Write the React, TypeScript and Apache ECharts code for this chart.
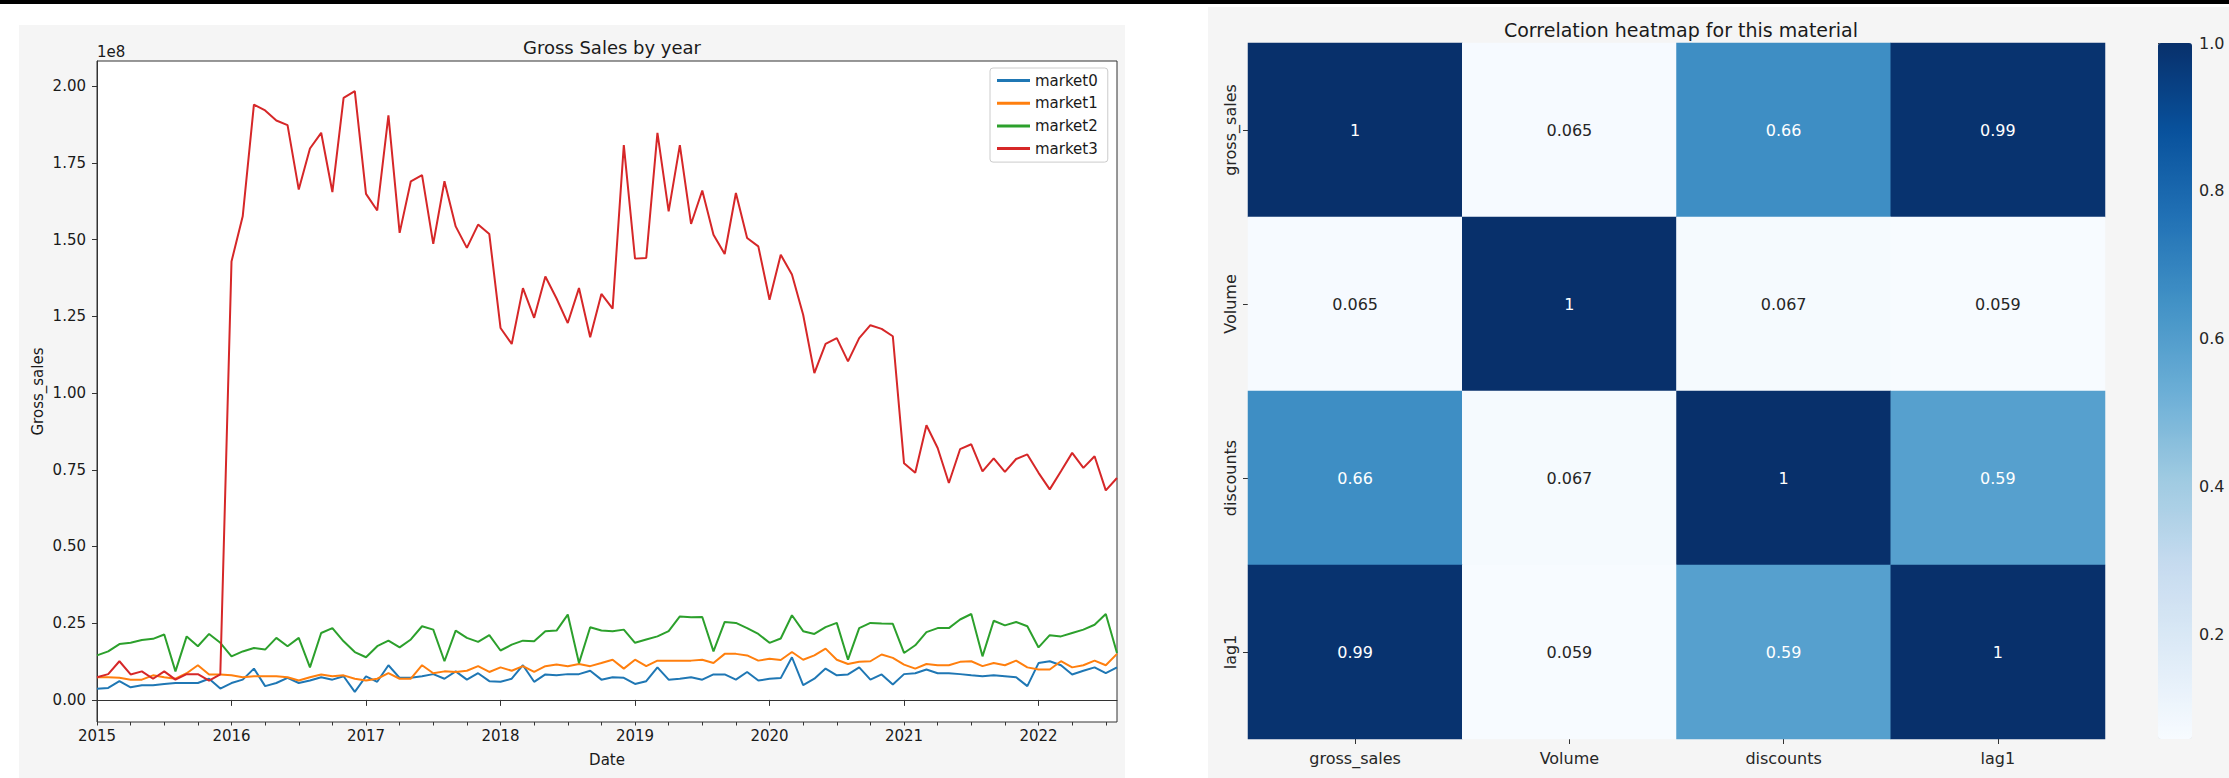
import React, { useEffect, useRef } from "react";
import * as echarts from "echarts";

// ---- Left chart data (values in units of 1e8), monthly from 2015-01 to 2022-08 ----
const startYear = 2015;
const seriesNames = ["market0", "market1", "market2", "market3"];
const market0 = [
  0.036, 0.039, 0.061, 0.041, 0.048, 0.048, 0.052, 0.055, 0.055, 0.055, 0.069, 0.037,
  0.055, 0.066, 0.102, 0.045, 0.055, 0.072, 0.055, 0.063, 0.074, 0.066, 0.077, 0.026,
  0.077, 0.059, 0.113, 0.072, 0.072, 0.077, 0.084, 0.069, 0.093, 0.066, 0.087, 0.061,
  0.059, 0.069, 0.113, 0.059, 0.083, 0.080, 0.084, 0.084, 0.095, 0.066, 0.074, 0.072,
  0.052, 0.061, 0.106, 0.066, 0.069, 0.074, 0.066, 0.083, 0.083, 0.066, 0.091, 0.063,
  0.069, 0.071, 0.139, 0.048, 0.069, 0.102, 0.080, 0.083, 0.106, 0.066, 0.083, 0.050,
  0.084, 0.087, 0.099, 0.087, 0.087, 0.084, 0.080, 0.077, 0.080, 0.077, 0.074, 0.045,
  0.120, 0.126, 0.113, 0.083, 0.095, 0.106, 0.087, 0.106,
];
const market1 = [
  0.074, 0.074, 0.072, 0.066, 0.066, 0.080, 0.074, 0.069, 0.087, 0.113, 0.083, 0.083,
  0.080, 0.074, 0.077, 0.077, 0.077, 0.074, 0.063, 0.074, 0.083, 0.077, 0.080, 0.069,
  0.063, 0.069, 0.087, 0.069, 0.069, 0.113, 0.087, 0.093, 0.091, 0.095, 0.110, 0.091,
  0.106, 0.095, 0.110, 0.091, 0.110, 0.115, 0.110, 0.117, 0.110, 0.120, 0.131, 0.102,
  0.131, 0.110, 0.128, 0.128, 0.128, 0.128, 0.131, 0.120, 0.150, 0.150, 0.145, 0.128,
  0.134, 0.130, 0.156, 0.131, 0.145, 0.167, 0.131, 0.117, 0.124, 0.126, 0.148, 0.137,
  0.115, 0.102, 0.117, 0.113, 0.113, 0.124, 0.126, 0.110, 0.120, 0.113, 0.128, 0.106,
  0.099, 0.099, 0.126, 0.106, 0.113, 0.128, 0.113, 0.150,
];
const market2 = [
  0.145, 0.158, 0.182, 0.186, 0.195, 0.199, 0.213, 0.093, 0.207, 0.175, 0.215, 0.186,
  0.142, 0.158, 0.169, 0.164, 0.202, 0.175, 0.202, 0.106, 0.218, 0.234, 0.191, 0.156,
  0.139, 0.175, 0.193, 0.171, 0.197, 0.240, 0.229, 0.126, 0.226, 0.202, 0.189, 0.211,
  0.161, 0.180, 0.193, 0.191, 0.224, 0.226, 0.278, 0.120, 0.237, 0.226, 0.224, 0.229,
  0.186, 0.197, 0.207, 0.224, 0.272, 0.269, 0.270, 0.158, 0.254, 0.251, 0.234, 0.215,
  0.186, 0.200, 0.276, 0.224, 0.215, 0.237, 0.251, 0.131, 0.234, 0.251, 0.249, 0.248,
  0.153, 0.178, 0.221, 0.234, 0.234, 0.262, 0.280, 0.142, 0.258, 0.243, 0.254, 0.240,
  0.171, 0.211, 0.207, 0.218, 0.229, 0.245, 0.280, 0.153,
];
const market3 = [
  0.074, 0.084, 0.126, 0.083, 0.093, 0.069, 0.093, 0.066, 0.084, 0.084, 0.063, 0.083,
  1.429, 1.576, 1.940, 1.921, 1.888, 1.873, 1.663, 1.797, 1.848, 1.655, 1.962, 1.984,
  1.649, 1.595, 1.905, 1.522, 1.690, 1.710, 1.486, 1.690, 1.543, 1.473, 1.549, 1.518,
  1.212, 1.160, 1.342, 1.245, 1.380, 1.308, 1.228, 1.342, 1.182, 1.323, 1.275, 1.808,
  1.438, 1.440, 1.848, 1.592, 1.808, 1.551, 1.660, 1.516, 1.453, 1.652, 1.505, 1.478,
  1.304, 1.451, 1.386, 1.255, 1.065, 1.160, 1.179, 1.103, 1.179, 1.221, 1.209, 1.185,
  0.771, 0.740, 0.895, 0.821, 0.707, 0.817, 0.833, 0.745, 0.787, 0.743, 0.785, 0.800,
  0.740, 0.686, 0.745, 0.805, 0.756, 0.794, 0.683, 0.723,
];
const marketSeries = [market0, market1, market2, market3];
const lineColors = ["#1f77b4", "#ff7f0e", "#2ca02c", "#d62728"];
const yTickValues = [0, 0.25, 0.5, 0.75, 1.0, 1.25, 1.5, 1.75, 2.0];
const yearTickMonths = [0, 12, 24, 36, 48, 60, 72, 84];
const quarterTickMonths = [0, 3, 6, 9, 12, 15, 18, 21, 24, 27, 30, 33, 36, 39, 42, 45, 48, 51, 54, 57, 60, 63, 66, 69, 72, 75, 78, 81, 84, 87, 90];

// ---- Heatmap data ----
const heatLabels = ["gross_sales", "Volume", "discounts", "lag1"];
const corrRows = [
  [1, 0.065, 0.66, 0.99],
  [0.065, 1, 0.067, 0.059],
  [0.66, 0.067, 1, 0.59],
  [0.99, 0.059, 0.59, 1],
];
const colorbarTicks = [0.2, 0.4, 0.6, 0.8, 1.0];
const bluesColors = ["#f7fbff", "#deebf7", "#c6dbef", "#9ecae1", "#6baed6", "#4292c6", "#2171b5", "#08519c", "#08306b"];

const FONT = "DejaVu Sans";
const TXT = "#1a1a1a";

function fmt2g(v: number): string {
  return String(Number(v.toPrecision(2)));
}

export default function App() {
  const ref = useRef<HTMLDivElement | null>(null);

  useEffect(() => {
    if (!ref.current) return;
    const chart = echarts.init(ref.current, undefined, { renderer: "svg" });

    const allVals = corrRows.flat();
    const vMin = Math.min(...allVals);
    const vMax = Math.max(...allVals);

    const heatData: any[] = [];
    corrRows.forEach((row, r) => {
      row.forEach((v, c) => {
        heatData.push({
          value: [c, r, v],
          label: { color: v > 0.5 ? "#ffffff" : "#262626" },
        });
      });
    });

    const lineSeries = marketSeries.map((arr, k) => ({
      name: seriesNames[k],
      type: "line",
      xAxisIndex: 0,
      yAxisIndex: 0,
      data: arr.map((v, i) => [i, v]),
      symbol: "none",
      showSymbol: false,
      lineStyle: { width: 2, color: lineColors[k] },
      itemStyle: { color: lineColors[k] },
      z: 3 + k,
    }));

    const option: any = {
      animation: false,
      backgroundColor: "#ffffff",
      textStyle: { fontFamily: FONT },
      title: [
        {
          text: "Gross Sales by year",
          left: 607,
          textAlign: "center",
          top: 33,
          textStyle: { fontFamily: FONT, fontSize: 18, fontWeight: "normal", color: TXT },
        },
        {
          text: "Correlation heatmap for this material",
          left: 1676,
          textAlign: "center",
          top: 15,
          textStyle: { fontFamily: FONT, fontSize: 19, fontWeight: "normal", color: TXT },
        },
      ],
      graphic: [
        { type: "rect", z: -100, shape: { x: 0, y: 0, width: 2229, height: 4 }, style: { fill: "#000000" } },
        { type: "rect", z: -100, shape: { x: 19, y: 25, width: 1106, height: 753 }, style: { fill: "#f5f5f5" } },
        { type: "rect", z: -100, shape: { x: 1208, y: 7, width: 1021, height: 771 }, style: { fill: "#f5f5f5" } },
        {
          type: "text",
          x: 97,
          y: 52,
          style: { text: "1e8", fontFamily: FONT, fontSize: 15, fill: TXT, verticalAlign: "middle", align: "left" },
        },
      ],
      legend: {
        data: seriesNames,
        orient: "vertical",
        left: 990,
        top: 68,
        padding: [4, 10, 5, 7],
        itemGap: 5.7,
        itemWidth: 33,
        itemHeight: 3,
        icon: "rect",
        backgroundColor: "rgba(255,255,255,0.85)",
        borderColor: "#cccccc",
        borderWidth: 1,
        borderRadius: 3,
        textStyle: { fontFamily: FONT, fontSize: 15, color: TXT, lineHeight: 17 },
      },
      grid: [
        { left: 97, top: 61, width: 1020, height: 661, show: true, backgroundColor: "#ffffff", borderColor: "#333333", borderWidth: 1, containLabel: false },
        { left: 1248, top: 43, width: 857, height: 696, containLabel: false },
        { left: 2158, top: 43, width: 34, height: 696, containLabel: false },
      ],
      xAxis: [
        {
          gridIndex: 0,
          type: "value",
          min: 0,
          max: marketSeries[0].length - 1,
          axisLine: { show: true, lineStyle: { color: "#333333" } },
          axisTick: { show: true, customValues: yearTickMonths, length: 6, lineStyle: { color: "#333333" } },
          axisLabel: {
            show: true,
            customValues: yearTickMonths,
            formatter: (v: number) => String(startYear + Math.round(v / 12)),
            fontFamily: FONT,
            fontSize: 15,
            color: TXT,
            margin: 6,
          },
          splitLine: { show: false },
          name: "Date",
          nameLocation: "middle",
          nameGap: 30,
          nameTextStyle: { fontFamily: FONT, fontSize: 15, color: TXT },
        },
        {
          gridIndex: 0,
          type: "value",
          min: 0,
          max: marketSeries[0].length - 1,
          position: "bottom",
          axisLine: { show: false },
          axisTick: { show: true, customValues: quarterTickMonths, length: 3.5, lineStyle: { color: "#333333" } },
          axisLabel: { show: false },
          splitLine: { show: false },
        },
        {
          gridIndex: 1,
          type: "category",
          data: heatLabels,
          axisLine: { show: false },
          axisTick: { show: true, alignWithLabel: true, length: 5, lineStyle: { color: "#333333" } },
          axisLabel: { fontFamily: FONT, fontSize: 16, color: "#262626", margin: 11 },
          splitLine: { show: false },
        },
        { gridIndex: 2, type: "value", show: false, min: 0, max: 1 },
      ],
      yAxis: [
        {
          gridIndex: 0,
          type: "value",
          min: -0.072,
          max: 2.082,
          axisLine: { show: true, lineStyle: { color: "#333333" } },
          axisTick: { show: true, customValues: yTickValues, length: 5, lineStyle: { color: "#333333" } },
          axisLabel: {
            customValues: yTickValues,
            formatter: (v: number) => v.toFixed(2),
            fontFamily: FONT,
            fontSize: 15,
            color: TXT,
            margin: 11,
          },
          splitLine: { show: false },
          name: "Gross_sales",
          nameLocation: "middle",
          nameGap: 52,
          nameRotate: 90,
          nameTextStyle: { fontFamily: FONT, fontSize: 15, color: TXT },
        },
        {
          gridIndex: 1,
          type: "category",
          data: heatLabels,
          inverse: true,
          axisLine: { show: false },
          axisTick: { show: true, alignWithLabel: true, length: 5, lineStyle: { color: "#333333" } },
          axisLabel: { fontFamily: FONT, fontSize: 16, color: "#262626", rotate: 90, margin: 10 },
          splitLine: { show: false },
        },
        {
          gridIndex: 2,
          type: "value",
          position: "right",
          min: vMin,
          max: vMax,
          axisLine: { show: false },
          axisTick: { show: true, customValues: colorbarTicks, length: 5, lineStyle: { color: "#333333" } },
          axisLabel: {
            customValues: colorbarTicks,
            formatter: (v: number) => v.toFixed(1),
            fontFamily: FONT,
            fontSize: 16,
            color: "#262626",
            margin: 7,
          },
          splitLine: { show: false },
        },
      ],
      visualMap: {
        type: "continuous",
        seriesIndex: 4,
        min: vMin,
        max: vMax,
        calculable: false,
        orient: "vertical",
        left: 2158,
        top: 43,
        padding: 0,
        itemWidth: 34,
        itemHeight: 696,
        inRange: { color: bluesColors },
        text: null,
        showLabel: false,
      },
      series: [
        ...lineSeries,
        {
          type: "heatmap",
          xAxisIndex: 2,
          yAxisIndex: 1,
          data: heatData,
          label: {
            show: true,
            formatter: (p: any) => fmt2g(p.value[2]),
            fontFamily: FONT,
            fontSize: 16,
          },
          emphasis: { disabled: true },
        },
        {
          type: "line",
          xAxisIndex: 3,
          yAxisIndex: 2,
          data: [],
          symbol: "none",
        },
      ],
    };

    chart.setOption(option);
    return () => {
      chart.dispose();
    };
  }, []);

  return (
    <div
      ref={ref}
      style={{ position: "fixed", left: 0, top: 0, width: 2229, height: 778 }}
    />
  );
}
